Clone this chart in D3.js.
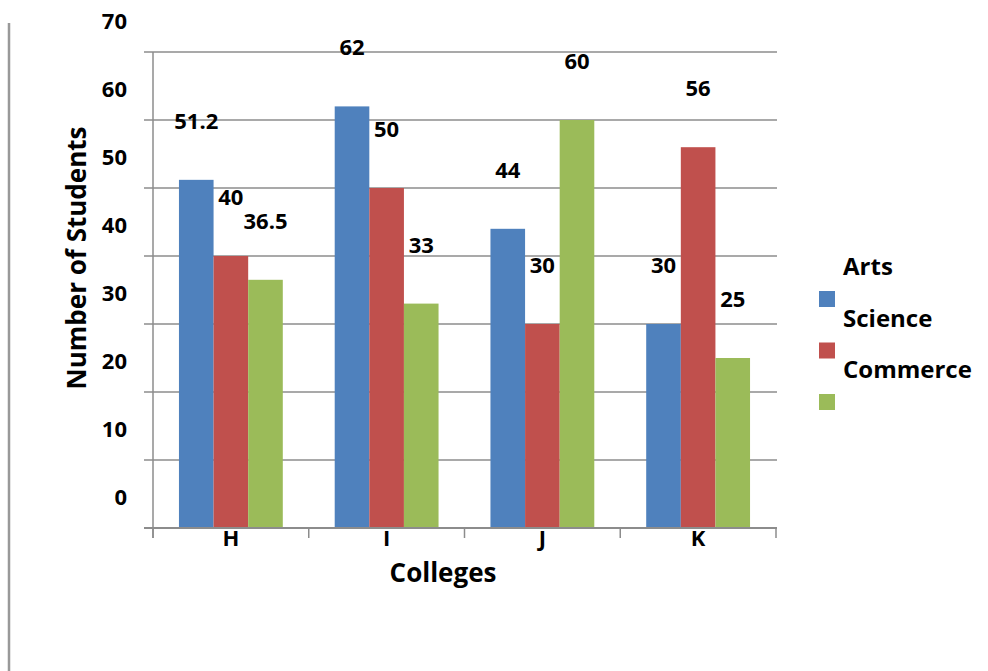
<!DOCTYPE html>
<html>
<head>
<meta charset="utf-8">
<script src="https://cdn.jsdelivr.net/npm/d3@7.9.0/dist/d3.min.js"></script>
<style>
  body { margin: 0; background: #fff; }
  text { font-family: "Open Sans", Calibri, sans-serif; font-weight: bold; fill: #000; }
</style>
</head>
<body>
<div id="chart"></div>
<script>
const categories = ["H", "I", "J", "K"];
const seriesNames = ["Arts", "Science", "Commerce"];
const arts = [51.2, 62, 44, 30];
const science = [40, 50, 30, 56];
const commerce = [36.5, 33, 60, 25];
const yTicks = [0, 10, 20, 30, 40, 50, 60, 70];
const colors = ["#4F81BD", "#C0504D", "#9BBB59"];

const width = 988, height = 671;
const plotLeft = 153, plotRight = 776, plotTop = 52, plotBottom = 528;

const svg = d3.select("#chart").append("svg")
    .attr("width", width)
    .attr("height", height);

svg.append("rect").attr("width", width).attr("height", height).attr("fill", "#fff");

// outer frame line on the left
svg.append("line")
    .attr("x1", 9).attr("x2", 9)
    .attr("y1", 23).attr("y2", height)
    .attr("stroke", "#999").attr("stroke-width", 2.5);

const yScale = d3.scaleLinear().domain([0, 70]).range([plotBottom, plotTop]);
const x0 = d3.scaleBand().domain(categories).range([plotLeft, plotRight]);
const bw = x0.bandwidth();
const x1 = d3.scaleBand().domain(seriesNames).range([bw / 6, bw * 5 / 6]);

// gridlines
svg.append("g").selectAll("line")
    .data(yTicks.filter(t => t > 0))
    .join("line")
    .attr("x1", plotLeft - 9).attr("x2", plotRight + 1)
    .attr("y1", d => yScale(d)).attr("y2", d => yScale(d))
    .attr("stroke", "#8c8c8c").attr("stroke-width", 1.5);

// y tick labels (sit well above their lines, as in the original)
svg.append("g").selectAll("text")
    .data(yTicks)
    .join("text")
    .attr("x", 127)
    .attr("y", d => yScale(d) - 23)
    .attr("text-anchor", "end")
    .style("font-size", "22px")
    .text(d => d);

const rows = categories.map((c, i) => ({
    cat: c,
    vals: [arts[i], science[i], commerce[i]].map((v, j) => ({ name: seriesNames[j], value: v, idx: j }))
}));

const groups = svg.append("g").selectAll("g")
    .data(rows)
    .join("g")
    .attr("transform", d => `translate(${x0(d.cat)},0)`);

groups.selectAll("rect")
    .data(d => d.vals)
    .join("rect")
    .attr("x", d => x1(d.name))
    .attr("width", x1.bandwidth())
    .attr("y", d => yScale(d.value))
    .attr("height", d => plotBottom - yScale(d.value))
    .attr("fill", d => colors[d.idx]);

groups.selectAll("text")
    .data(d => d.vals)
    .join("text")
    .attr("x", d => x1(d.name) + x1.bandwidth() / 2)
    .attr("y", d => yScale(d.value) - 51)
    .attr("text-anchor", "middle")
    .style("font-size", "22px")
    .text(d => d.value);

// axes
svg.append("line")
    .attr("x1", plotLeft).attr("x2", plotLeft)
    .attr("y1", plotTop).attr("y2", plotBottom + 10)
    .attr("stroke", "#8c8c8c").attr("stroke-width", 1.5);
svg.append("line")
    .attr("x1", plotLeft - 9).attr("x2", plotRight + 1)
    .attr("y1", plotBottom).attr("y2", plotBottom)
    .attr("stroke", "#8c8c8c").attr("stroke-width", 2);

const xTicks = categories.map(c => x0(c)).concat([plotRight]);
svg.append("g").selectAll("line")
    .data(xTicks)
    .join("line")
    .attr("x1", d => d).attr("x2", d => d)
    .attr("y1", plotBottom).attr("y2", plotBottom + 10)
    .attr("stroke", "#8c8c8c").attr("stroke-width", 1.5);

// category labels, top tucked just under the axis line
svg.append("clipPath").attr("id", "catclip")
    .append("rect").attr("x", 0).attr("y", plotBottom + 2).attr("width", width).attr("height", 30);

svg.append("g").attr("clip-path", "url(#catclip)")
    .selectAll("text")
    .data(categories)
    .join("text")
    .attr("x", d => x0(d) + bw / 2)
    .attr("y", 546)
    .attr("text-anchor", "middle")
    .style("font-size", "22px")
    .text(d => d);

// axis titles
svg.append("text")
    .attr("x", 443).attr("y", 582)
    .attr("text-anchor", "middle")
    .style("font-size", "26px")
    .text("Colleges");

svg.append("text")
    .attr("transform", "translate(86,258) rotate(-90)")
    .attr("text-anchor", "middle")
    .style("font-size", "26px")
    .text("Number of Students");

// legend: names drift above their swatches
const legend = svg.append("g").selectAll("g")
    .data(seriesNames)
    .join("g")
    .attr("transform", (d, i) => `translate(819,${291 + i * 51.5})`);

legend.append("rect")
    .attr("width", 16).attr("height", 16)
    .attr("fill", (d, i) => colors[i]);

legend.append("text")
    .attr("x", 24).attr("y", -16)
    .style("font-size", "24px")
    .text(d => d);
</script>
</body>
</html>
